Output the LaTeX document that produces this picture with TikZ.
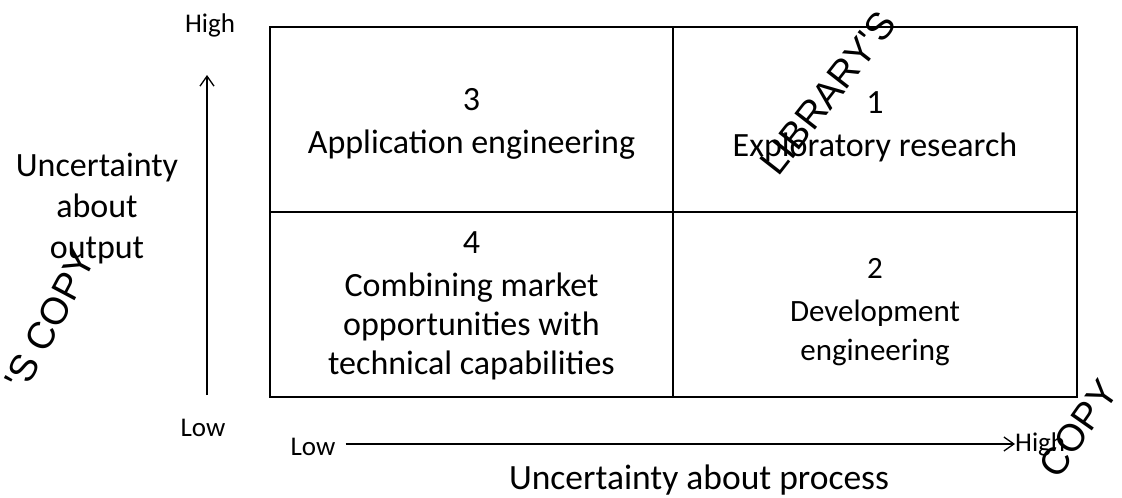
\documentclass[tikz,border=0pt]{standalone}
\usepackage{fontspec}
\setmainfont{Carlito}
\newfontfamily\wmfont{Liberation Sans}
\usetikzlibrary{arrows.meta}
\begin{document}
\begin{tikzpicture}[x=1pt,y=-1pt,
  cell/.style={draw=black, line width=2pt, minimum width=403pt, minimum height=185pt, inner sep=0pt},
  celltext/.style={align=center, inner sep=0pt, font=\fontsize{34}{39}\selectfont},
  axislabel/.style={align=center, font=\fontsize{34}{41}\selectfont, inner sep=0pt},
  tick/.style={font=\fontsize{27}{30}\selectfont, inner sep=0pt},
  axis/.style={line width=1.3pt, -{Straight Barb[length=10pt,width=14pt,line width=1.3pt]}},
  wm/.style={font=\wmfont\fontsize{38}{38}\selectfont, inner sep=0pt}]
\useasboundingbox (0,0) rectangle (1122,498);
% quadrants
\node[cell] (q3) at (471.5,119.5) {};
\node[cell, minimum width=404pt] (q1) at (875,119.5) {};
\node[cell] (q4) at (471.5,304.5) {};
\node[cell, minimum width=404pt] (q2) at (875,304.5) {};
\node[celltext] (t3) at (471.5,123.5) {3\\[4pt]Application engineering};
\node[celltext] (t1) at (875,126.5) {1\\[4pt]Exploratory research};
\node[celltext] (t4) at (471.5,305.5) {4\\[4pt]Combining market\\opportunities with\\technical capabilities};
\node[celltext, font=\fontsize{31}{39}\selectfont] (t2) at (875,312.5) {2\\[4pt]Development\\engineering};
% vertical axis
\coordinate (vlow) at (207,395);
\coordinate (vhigh) at (207,75);
\draw[axis] (vlow) -- (vhigh);
\node[tick] (vhightxt) at (210,25) {High};
\node[tick] (vlowtxt) at (203,428) {Low};
\node[axislabel] (ylabel) at (97,209) {Uncertainty\\about\\output};
% horizontal axis
\node[tick] (hlowtxt) at (313,447) {Low};
\node[tick, anchor=west] (hhightxt) at (1015,444) {High};
\draw[axis] (hlowtxt.east) ++(10,-3) coordinate (hlow) -- (hhightxt.west);
\node[axislabel, font=\fontsize{35.5}{41}\selectfont] (xlabel) at (699,480) {Uncertainty about process};
% watermark stamp fragments
\begin{scope}
\clip (0,0) rectangle (1122,498);
\node[wm, anchor=base west, rotate=52] (wm1) at (778,178) {LIBRARY'S};
\node[wm, anchor=base east, rotate=62] (wm2) at (97,259) {'S COPY};
\node[wm, anchor=base east, rotate=55] (wm3) at (1120,392) {COPY};
\end{scope}
\end{tikzpicture}
\end{document}
